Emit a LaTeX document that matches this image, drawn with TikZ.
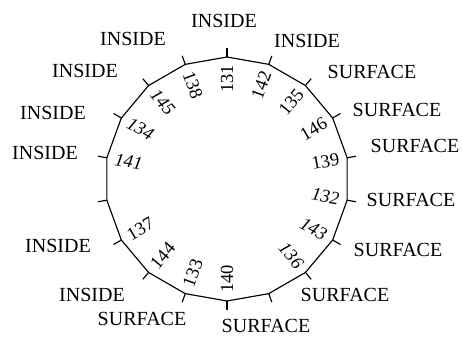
\documentclass[tikz,border=0pt]{standalone}
\usepackage{fontspec}
\setmainfont{Liberation Serif}
\begin{document}
\begin{tikzpicture}[x=1pt,y=1pt,
  rim/.style={line width=1.15pt, line join=miter},
  tickmark/.style={line width=1.15pt},
  sidelabel/.style={font=\fontsize{20}{20}\selectfont, inner sep=0pt},
  resnum/.style={font=\fontsize{18.5}{18.5}\selectfont, inner sep=0pt},
  resnumit/.style={font=\fontsize{18.5}{18.5}\selectfont\itshape, inner sep=0pt}]
\useasboundingbox (0,0) rectangle (462,337);
\coordinate (c) at (227,158);
\foreach \k in {0,...,17}{
  \coordinate (v\k) at ([shift={({90-20*\k}:122)}]c);
  \coordinate (t\k) at ([shift={({90-20*\k}:131)}]c);
}
\draw[rim] (v0) \foreach \k in {1,...,17}{-- (v\k)} -- cycle;
\foreach \k in {0,...,17} \draw[tickmark] (v\k) -- (t\k);
% residue numbers (upright)
\foreach \k/\n/\r in {0/131/90, 1/142/70, 2/135/50, 3/146/30, 4/139/10,
                      9/140/90, 10/133/70, 11/144/50, 12/137/30, 17/138/-70}
  \node[resnum, rotate=\r] (n\n) at ([shift={({90-20*\k}:100)}]c) {\n};
% residue numbers (slanted)
\foreach \k/\n/\r in {5/132/-10, 6/143/-30, 7/136/-50,
                      14/141/-10, 15/134/-30, 16/145/-50}
  \node[resnumit, rotate=\r] (n\n) at ([shift={({90-20*\k}:100)}]c) {\n};
% outside labels
\node[sidelabel] (L0)  at (224,316) {INSIDE};
\node[sidelabel] (L1)  at (307,296) {INSIDE};
\node[sidelabel] (L2)  at (372,265) {SURFACE};
\node[sidelabel] (L3)  at (397,227) {SURFACE};
\node[sidelabel] (L4)  at (415,191) {SURFACE};
\node[sidelabel] (L5)  at (411,137) {SURFACE};
\node[sidelabel] (L6)  at (398,87)  {SURFACE};
\node[sidelabel] (L7)  at (345,42)  {SURFACE};
\node[sidelabel] (L9)  at (266,11)  {SURFACE};
\node[sidelabel] (L10) at (142,18)  {SURFACE};
\node[sidelabel] (L11) at (92,42)   {INSIDE};
\node[sidelabel] (L12) at (58,91)   {INSIDE};
\node[sidelabel] (L14) at (45,184)  {INSIDE};
\node[sidelabel] (L15) at (53,224)  {INSIDE};
\node[sidelabel] (L16) at (85,266)  {INSIDE};
\node[sidelabel] (L17) at (133,298) {INSIDE};
\end{tikzpicture}
\end{document}
